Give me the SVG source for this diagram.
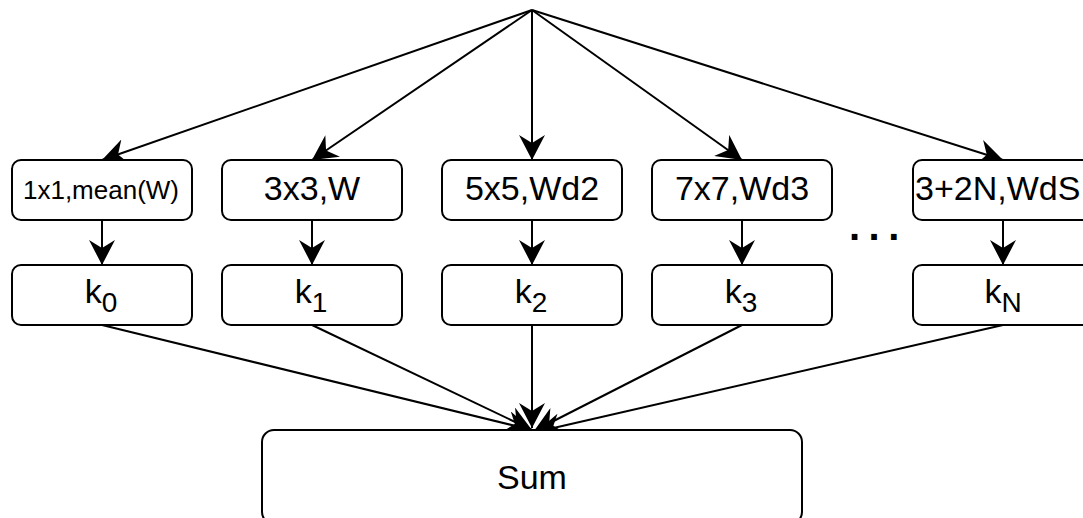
<svg xmlns="http://www.w3.org/2000/svg" width="1083" height="518" viewBox="0 0 1083 518">
  <style>
    .box { fill: #ffffff; stroke: #000000; stroke-width: 2; }
    .edge { fill: none; stroke: #000000; stroke-width: 2; marker-end: url(#arrow); }
    .lbl { font-family: "Liberation Sans", Arial, sans-serif; font-size: 34px; fill: #000000; text-anchor: middle; }
    .sub { font-size: 28px; }
    .small { font-size: 26px; }
  </style>
  <defs>
    <marker id="arrow" markerUnits="userSpaceOnUse" markerWidth="26" markerHeight="26" viewBox="0 0 26 26" refX="25" refY="13" orient="auto">
      <path d="M0,0 L25,13 L0,26 L8,13 Z" fill="#000000"/>
    </marker>
  </defs>

  <rect width="1083" height="518" fill="#ffffff"/>

  <!-- connectors -->
  <g id="connectors">
    <line class="edge" x1="532" y1="10" x2="102" y2="160"/>
    <line class="edge" x1="532" y1="10" x2="312" y2="160"/>
    <line class="edge" x1="532" y1="10" x2="532" y2="160"/>
    <line class="edge" x1="532" y1="10" x2="742" y2="160"/>
    <line class="edge" x1="532" y1="10" x2="1003" y2="160"/>

    <line class="edge" x1="102" y1="220" x2="102" y2="265"/>
    <line class="edge" x1="312" y1="220" x2="312" y2="265"/>
    <line class="edge" x1="532" y1="220" x2="532" y2="265"/>
    <line class="edge" x1="742" y1="220" x2="742" y2="265"/>
    <line class="edge" x1="1003" y1="220" x2="1003" y2="265"/>

    <line class="edge" x1="102" y1="325" x2="532" y2="430"/>
    <line class="edge" x1="312" y1="325" x2="532" y2="430"/>
    <line class="edge" x1="532" y1="325" x2="532" y2="428"/>
    <line class="edge" x1="742" y1="325" x2="534" y2="431"/>
    <line class="edge" x1="1003" y1="325" x2="536" y2="432"/>
  </g>

  <!-- kernel branches -->
  <g id="branch0">
    <rect class="box" x="12" y="160" width="180" height="60" rx="9"/>
    <text class="lbl small" x="101" y="199">1x1,mean(W)</text>
  </g>
  <g id="k0">
    <rect class="box" x="12" y="265" width="180" height="60" rx="9"/>
    <text class="lbl" x="101" y="303">k<tspan class="sub" dy="9">0</tspan></text>
  </g>

  <g id="branch1">
    <rect class="box" x="222" y="160" width="180" height="60" rx="9"/>
    <text class="lbl" x="312" y="200">3x3,W</text>
  </g>
  <g id="k1">
    <rect class="box" x="222" y="265" width="180" height="60" rx="9"/>
    <text class="lbl" x="311" y="303">k<tspan class="sub" dy="9">1</tspan></text>
  </g>

  <g id="branch2">
    <rect class="box" x="442" y="160" width="180" height="60" rx="9"/>
    <text class="lbl" x="532" y="200">5x5,Wd2</text>
  </g>
  <g id="k2">
    <rect class="box" x="442" y="265" width="180" height="60" rx="9"/>
    <text class="lbl" x="531" y="303">k<tspan class="sub" dy="9">2</tspan></text>
  </g>

  <g id="branch3">
    <rect class="box" x="652" y="160" width="180" height="60" rx="9"/>
    <text class="lbl" x="742" y="200">7x7,Wd3</text>
  </g>
  <g id="k3">
    <rect class="box" x="652" y="265" width="180" height="60" rx="9"/>
    <text class="lbl" x="741" y="303">k<tspan class="sub" dy="9">3</tspan></text>
  </g>

  <g id="ellipsis">
    <text x="849" y="240" font-family="Liberation Sans, Arial, sans-serif" font-size="40" font-weight="bold" letter-spacing="8.5">...</text>
  </g>

  <g id="branchN">
    <rect class="box" x="913" y="160" width="180" height="60" rx="9"/>
    <text class="lbl" x="915" y="200" text-anchor="start" style="text-anchor:start">3+2N,WdS</text>
  </g>
  <g id="kN">
    <rect class="box" x="913" y="265" width="180" height="60" rx="9"/>
    <text class="lbl" x="1003" y="303">k<tspan class="sub" dy="9">N</tspan></text>
  </g>

  <g id="sum">
    <rect class="box" x="262" y="430" width="540" height="94" rx="12"/>
    <text class="lbl" x="532" y="489">Sum</text>
  </g>
</svg>
